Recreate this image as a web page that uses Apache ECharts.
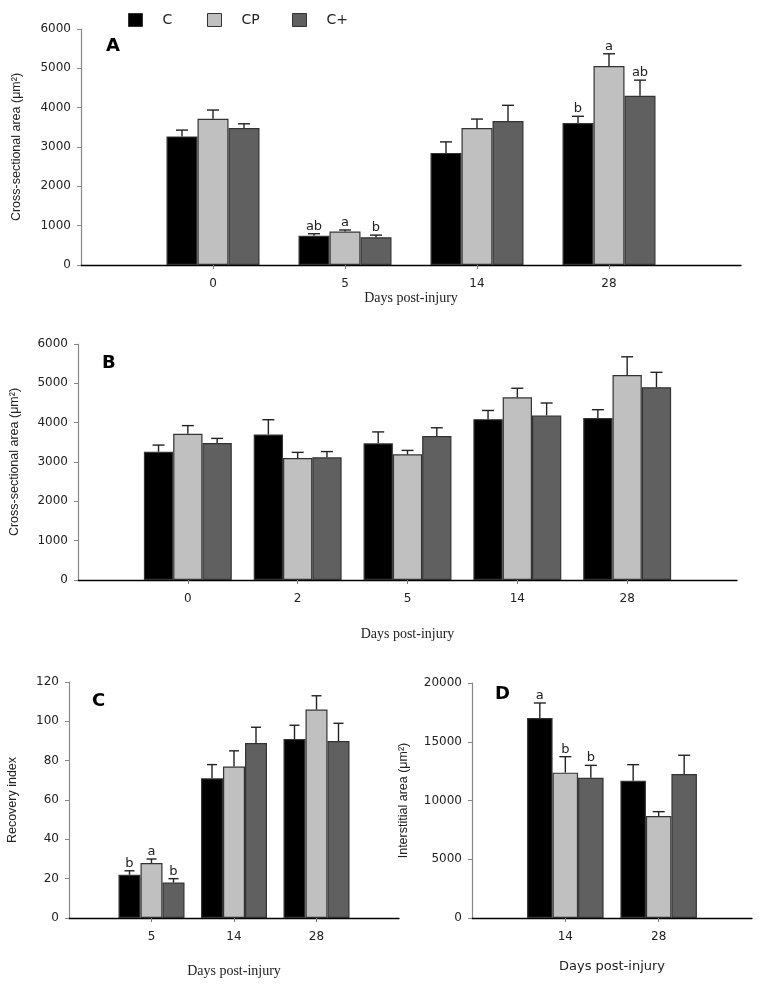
<!DOCTYPE html>
<html>
<head>
<meta charset="utf-8">
<script src="https://cdn.jsdelivr.net/npm/echarts@6/dist/echarts.min.js"></script>
<style>
html,body{margin:0;padding:0;background:#fff;}
#chart{width:760px;height:987px;}
</style>
</head>
<body>
<div id="chart"></div>
<script>
// ---------- DATA ----------
const groups = ['C', 'CP', 'C+'];

// Panel A
const daysA = ['0', '5', '14', '28'];
const A_C = [3270, 745, 2850, 3610];
const A_CP = [3720, 850, 3480, 5060];
const A_Cplus = [3480, 705, 3660, 4300];
const A_C_se = [160, 50, 280, 170];
const A_CP_se = [220, 40, 230, 310];
const A_Cplus_se = [110, 55, 400, 400];
const A_C_sig = ['', 'ab', '', 'b'];
const A_CP_sig = ['', 'a', '', 'a'];
const A_Cplus_sig = ['', 'b', '', 'ab'];

// Panel B
const daysB = ['0', '2', '5', '14', '28'];
const B_C = [3260, 3700, 3475, 4090, 4120];
const B_CP = [3720, 3100, 3195, 4645, 5210];
const B_Cplus = [3480, 3120, 3660, 4185, 4900];
const B_C_se = [170, 375, 290, 220, 210];
const B_CP_se = [205, 145, 100, 230, 465];
const B_Cplus_se = [120, 145, 210, 315, 380];

// Panel C
const daysC = ['5', '14', '28'];
const C_C = [22, 71, 91];
const C_CP = [28, 77, 106];
const C_Cplus = [18, 89, 90];
const C_C_se = [2, 7, 7];
const C_CP_se = [2, 8, 7];
const C_Cplus_se = [2, 8, 9];
const C_C_sig = ['b', '', ''];
const C_CP_sig = ['a', '', ''];
const C_Cplus_sig = ['b', '', ''];

// Panel D
const daysD = ['14', '28'];
const D_C = [17020, 11690];
const D_CP = [12370, 8680];
const D_Cplus = [11940, 12260];
const D_C_se = [1280, 1360];
const D_CP_se = [1360, 370];
const D_Cplus_se = [1050, 1590];
const D_C_sig = ['a', ''];
const D_CP_sig = ['b', ''];
const D_Cplus_sig = ['b', ''];

// Axis ticks
const yTicksAB = {min: 0, max: 6000, interval: 1000};
const yTicksC = {min: 0, max: 120, interval: 20};
const yTicksD = {min: 0, max: 20000, interval: 5000};

// ---------- BUILD ----------
const colors = {'C': '#000000', 'CP': '#c0c0c0', 'C+': '#606060'};
const sansFont = 'DejaVu Sans';
const serifFont = 'Liberation Serif';

const panels = [
  {label: 'A', days: daysA, vals: [A_C, A_CP, A_Cplus], se: [A_C_se, A_CP_se, A_Cplus_se],
   sig: [A_C_sig, A_CP_sig, A_Cplus_sig], y: yTicksAB,
   grid: {left: 81, top: 29, width: 660, height: 236}, bw: 31, cap: 12,
   yName: 'Cross-sectional area (μm²)', yGap: 58, xGap: 22, xFont: serifFont, xSize: 14,
   lab: [106, 37]},
  {label: 'B', days: daysB, vals: [B_C, B_CP, B_Cplus], se: [B_C_se, B_CP_se, B_Cplus_se],
   sig: null, y: yTicksAB,
   grid: {left: 77, top: 344, width: 660, height: 236}, bw: 29.3, cap: 12,
   yName: 'Cross-sectional area (μm²)', yGap: 57, xGap: 47, xFont: serifFont, xSize: 14,
   lab: [102, 354]},
  {label: 'C', days: daysC, vals: [C_C, C_CP, C_Cplus], se: [C_C_se, C_CP_se, C_Cplus_se],
   sig: [C_C_sig, C_CP_sig, C_Cplus_sig], y: yTicksC,
   grid: {left: 69, top: 682, width: 330, height: 236}, bw: 22, cap: 10,
   yName: 'Recovery index', yGap: 50, xGap: 46, xFont: serifFont, xSize: 14,
   lab: [92, 692]},
  {label: 'D', days: daysD, vals: [D_C, D_CP, D_Cplus], se: [D_C_se, D_CP_se, D_Cplus_se],
   sig: [D_C_sig, D_CP_sig, D_Cplus_sig], y: yTicksD,
   grid: {left: 472, top: 683, width: 280, height: 235}, bw: 25.5, cap: 12,
   yName: 'Interstitial area (μm²)', yGap: 62, xGap: 42, xFont: sansFont, xSize: 13,
   lab: [495, 685]}
];

const grid = [], xAxis = [], yAxis = [], series = [], title = [];

panels.forEach((p, pi) => {
  const n = p.days.length;
  grid.push(p.grid);
  xAxis.push({
    type: 'category', gridIndex: pi, boundaryGap: false,
    data: [''].concat(p.days, ['']),
    axisLine: {lineStyle: {color: '#000', width: 1.3}},
    axisTick: {show: true, length: 4, lineStyle: {color: '#777'},
               interval: (i) => i > 0 && i <= n},
    axisLabel: {fontFamily: sansFont, fontSize: 12, color: '#222', margin: 13, interval: 0},
    name: 'Days post-injury', nameLocation: 'middle', nameGap: p.xGap,
    nameTextStyle: {fontFamily: p.xFont, fontSize: p.xSize, color: '#222'},
    splitLine: {show: false}
  });
  yAxis.push({
    type: 'value', gridIndex: pi, min: p.y.min, max: p.y.max, interval: p.y.interval,
    axisLine: {show: true, lineStyle: {color: '#888', width: 1.2}},
    axisTick: {show: true, length: 4, lineStyle: {color: '#888'}},
    axisLabel: {fontFamily: sansFont, fontSize: 12, color: '#222', margin: 10,
                formatter: (v) => String(v)},
    splitLine: {show: false},
    name: p.yName, nameLocation: 'middle', nameGap: p.yGap,
    nameTextStyle: {fontFamily: 'Liberation Sans', fontSize: 12.5, color: '#222'}
  });
  title.push({text: p.label, left: p.lab[0], top: p.lab[1], padding: 0,
    textStyle: {fontFamily: sansFont, fontWeight: 'bold', fontSize: 18, color: '#000'}});

  groups.forEach((g, gi) => {
    const vals = p.vals[gi];
    series.push({
      type: 'bar', name: g, xAxisIndex: pi, yAxisIndex: pi,
      data: ['-'].concat(vals, ['-']),
      barWidth: p.bw, barGap: '0%',
      itemStyle: {color: colors[g], borderColor: '#333', borderWidth: 1.2},
      emphasis: {disabled: true},
      z: 2
    });
    const se = p.se[gi];
    const sig = p.sig ? p.sig[gi] : null;
    const offset = (gi - 1) * p.bw;
    series.push({
      type: 'custom', name: 'err-' + g + '-' + p.label, xAxisIndex: pi, yAxisIndex: pi,
      data: vals.map((v, i) => [i + 1, v, v + se[i]]),
      z: 5, clip: false,
      renderItem: (params, api) => {
        const b = api.coord([api.value(0), api.value(1)]);
        const t = api.coord([api.value(0), api.value(2)]);
        const cx = b[0] + offset;
        const st = {stroke: '#222', lineWidth: 1.4};
        const ch = [
          {type: 'line', shape: {x1: cx, y1: b[1], x2: cx, y2: t[1]}, style: st},
          {type: 'line', shape: {x1: cx - p.cap / 2, y1: t[1], x2: cx + p.cap / 2, y2: t[1]}, style: st}
        ];
        const s = sig ? sig[params.dataIndex] : '';
        if (s) {
          ch.push({type: 'text', x: cx, y: t[1] - 1,
            style: {text: s, align: 'center', verticalAlign: 'bottom',
                    fontFamily: sansFont, fontSize: 13, fill: '#222'}});
        }
        return {type: 'group', children: ch};
      }
    });
  });
});

const legendBase = {top: 8, itemWidth: 14, itemHeight: 13, icon: 'rect',
  itemStyle: {borderColor: '#333', borderWidth: 1},
  textStyle: {fontFamily: sansFont, fontSize: 14, color: '#222', padding: [0, 0, 0, 15]},
  selectedMode: false};
const legend = [
  Object.assign({}, legendBase, {left: 123, data: ['C']}),
  Object.assign({}, legendBase, {left: 202, data: ['CP']}),
  Object.assign({}, legendBase, {left: 287, data: ['C+']})
];

const chart = echarts.init(document.getElementById('chart'), null, {renderer: 'canvas'});
chart.setOption({
  animation: false,
  backgroundColor: '#fff',
  title, legend, grid, xAxis, yAxis, series
});
</script>
</body>
</html>
